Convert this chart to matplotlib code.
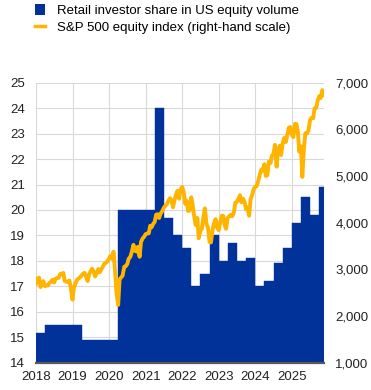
import matplotlib
matplotlib.use('Agg')
import matplotlib.pyplot as plt
from matplotlib.patches import Patch
from matplotlib.lines import Line2D
from matplotlib.ticker import FuncFormatter, MultipleLocator
import numpy as np
import pandas as pd

plt.rcParams['font.family'] = ['Liberation Sans', 'DejaVu Sans']

BLUE = '#003299'
ORANGE = '#ffb400'

# retail investor share in US equity volume, per quarter (2018Q1 .. 2025Q4), %
share_quarters = pd.period_range('2018Q1', '2025Q4', freq='Q')
share_2018 = [15.15, 15.5, 15.5, 15.5]
share_2019 = [15.5, 14.9, 14.9, 14.9]
share_2020 = [14.9, 20.0, 20.0, 20.0]
share_2021 = [20.0, 24.0, 19.7, 19.0]
share_2022 = [18.5, 17.0, 17.5, 19.0]
share_2023 = [18.0, 18.7, 18.0, 18.1]
share_2024 = [17.0, 17.2, 17.9, 18.5]
share_2025 = [19.5, 20.5, 19.8, 20.9]

# S&P 500 index, sampled on the 1st and 15th of each month
spx_2018 = [2695, 2800, 2822, 2620, 2677, 2748, 2640, 2656, 2655, 2711, 2735, 2780,
            2718, 2798, 2813, 2818, 2902, 2905, 2924, 2750, 2740, 2730, 2760, 2600]
spx_2019 = [2351, 2610, 2706, 2775, 2803, 2822, 2867, 2905, 2924, 2850, 2750, 2890,
            2964, 3014, 2953, 2847, 2926, 3007, 2940, 2995, 3066, 3120, 3141, 3168]
spx_2020 = [3230, 3289, 3225, 3380, 2954, 2500, 2237, 2783, 2830, 2863, 3055, 3066,
            3115, 3226, 3271, 3372, 3526, 3401, 3380, 3483, 3270, 3585, 3662, 3694]
spx_2021 = [3756, 3768, 3773, 3934, 3901, 3968, 4019, 4170, 4181, 4100, 4202, 4246,
            4320, 4360, 4395, 4468, 4524, 4480, 4330, 4471, 4613, 4682, 4513, 4709]
spx_2022 = [4766, 4662, 4400, 4471, 4250, 4262, 4545, 4392, 4131, 3950, 4101, 3667,
            3825, 3863, 4119, 4305, 3966, 3901, 3585, 3577, 3856, 3991, 4076, 3895]
spx_2023 = [3840, 3999, 4150, 4147, 3951, 3870, 4109, 4137, 4167, 4136, 4221, 4425,
            4450, 4505, 4589, 4437, 4515, 4450, 4288, 4327, 4150, 4502, 4594, 4719]
spx_2024 = [4770, 4783, 4906, 5029, 5137, 5117, 5254, 5000, 5018, 5308, 5277, 5431,
            5475, 5667, 5200, 5543, 5648, 5450, 5708, 5815, 5728, 5870, 6032, 6051]
spx_2025 = [5882, 5836, 6118, 6114, 5955, 5522, 5633, 4982, 5604, 5916, 5912, 5977,
            6198, 6243, 6238, 6450, 6460, 6615, 6711, 6671, 6840, 6734]

left_ticks = list(range(14, 26))
right_ticks = [1000, 2000, 3000, 4000, 5000, 6000, 7000]
year_ticks = [str(y) for y in range(2018, 2026)]

share = (share_2018 + share_2019 + share_2020 + share_2021
         + share_2022 + share_2023 + share_2024 + share_2025)
spx = (spx_2018 + spx_2019 + spx_2020 + spx_2021
       + spx_2022 + spx_2023 + spx_2024 + spx_2025)
spx_dates = pd.date_range('2018-01-01', periods=len(spx), freq='SMS')

q_start = share_quarters.to_timestamp(how='start')
q_end = (share_quarters + 1).to_timestamp(how='start')
q_width = np.array([(e - s).days for s, e in zip(q_start, q_end)], dtype=float)

fig = plt.figure(figsize=(3.71, 3.90), dpi=100)
ax = fig.add_axes([0.097, 0.070, 0.777, 0.718])
ax2 = ax.twinx()

ax.bar(q_start, share, width=q_width, align='edge', color=BLUE,
       edgecolor=BLUE, linewidth=0.3, zorder=2)
ax2.plot(spx_dates, spx, color=ORANGE, linewidth=2.8, solid_joinstyle='round')

ax.set_ylim(left_ticks[0], left_ticks[-1])
ax.yaxis.set_major_locator(MultipleLocator(1))
ax2.set_ylim(right_ticks[0], right_ticks[-1])
ax2.set_yticks(right_ticks)
ax2.yaxis.set_major_formatter(FuncFormatter(lambda v, _: f'{v:,.0f}'))

ax.set_xlim(pd.Timestamp('2018-01-01'), pd.Timestamp('2025-11-20'))
ax.set_xticks([pd.Timestamp(f'{y}-01-01') for y in year_ticks])
ax.set_xticklabels(year_ticks)

ax.set_axisbelow(True)
ax.grid(True, color='#d9d9d9', linewidth=0.8)
for a in (ax, ax2):
    for side in ('top', 'left', 'right', 'bottom'):
        a.spines[side].set_visible(False)
ax.axhline(left_ticks[0], color='#595959', linewidth=1.6, zorder=5, clip_on=False)

ax.tick_params(axis='both', length=0, labelsize=9.5, colors='#222222')
ax.tick_params(axis='y', pad=8)
ax.tick_params(axis='x', pad=6)
ax2.tick_params(axis='y', length=0, labelsize=9.5, colors='#222222', pad=8)

handles = [Patch(facecolor=BLUE, edgecolor='none'),
           Line2D([], [], color=ORANGE, linewidth=2.5)]
labels = ['Retail investor share in US equity volume',
          'S&P 500 equity index (right-hand scale)']
fig.legend(handles, labels, loc='upper left', bbox_to_anchor=(0.090, 0.992),
           frameon=False, fontsize=9.5, handlelength=0.8, handleheight=0.8,
           handletextpad=0.9, labelspacing=0.3, borderpad=0.1, borderaxespad=0)

fig.savefig('out.png', dpi=100)
